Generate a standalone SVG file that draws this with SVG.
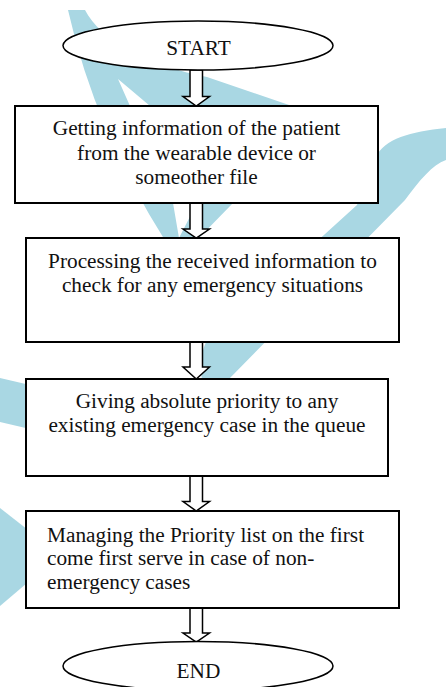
<svg xmlns="http://www.w3.org/2000/svg" width="446" height="687" viewBox="0 0 446 687">
<style>
.wm{fill:#a9d7e3;stroke:none;fill-rule:evenodd}
.box{fill:#fff;stroke:#000;stroke-width:2}
.term{fill:#fff;stroke:#000;stroke-width:1.5}
.arr{fill:#fff;stroke:#000;stroke-width:1.5;stroke-linejoin:miter}
text{font-family:"Liberation Serif","Times New Roman",serif;font-size:21.3px;fill:#111}
.c{text-anchor:middle}
</style>
<rect width="446" height="687" fill="#fff"/>
<g id="watermark">
<path class="wm" d="M68,10 L85,10 C100,40 150,66 207,77 L292,106 L292,150 L233,203 L195,242 L166,242 Q95,130 68,10 Z M118,79 L150,106 L197,203 L179,238 L173,203 L130,106 Z"/>
<path class="wm" d="M446,128 C410,132 385,138 375,158 L357,205 L206,342 C200,355 200,368 202,380 L228,380 L405,200 C420,180 432,165 446,160 Z"/>
<path class="wm" d="M0,378 L60,392 L60,436 L0,422 Z"/>
<path class="wm" d="M0,508 L60,555 L0,606 Z"/>
</g>
<g id="connectors">
<path class="arr" d="M190,70 L202.5,70 L202.5,96.5 L209.5,96.5 L196.25,106 L183,96.5 L190,96.5 Z"/>
<path class="arr" d="M190,203 L202.5,203 L202.5,229 L209.5,229 L196.25,238 L183,229 L190,229 Z"/>
<path class="arr" d="M190,342 L202.5,342 L202.5,367 L209.5,367 L196.25,379 L183,367 L190,367 Z"/>
<path class="arr" d="M190,476 L202.5,476 L202.5,501.5 L209.5,501.5 L196.25,511 L183,501.5 L190,501.5 Z"/>
<path class="arr" d="M190,608 L202.5,608 L202.5,633 L209.5,633 L196.25,642 L183,633 L190,633 Z"/>
</g>
<g id="start">
<ellipse class="term" cx="198" cy="45.5" rx="135" ry="24.5"/>
<text class="c" x="198.5" y="55">START</text>
</g>
<g id="step1">
<rect class="box" x="15" y="106" width="363" height="97"/>
<text class="c" x="196.5" y="135">Getting information of the patient</text>
<text class="c" x="196.5" y="160">from the wearable device or</text>
<text class="c" x="196.5" y="184">someother file</text>
</g>
<g id="step2">
<rect class="box" x="26" y="238" width="373" height="104"/>
<text class="c" x="212.5" y="268">Processing the received information to</text>
<text class="c" x="212.5" y="292">check for any emergency situations</text>
</g>
<g id="step3">
<rect class="box" x="26" y="379" width="362" height="97"/>
<text class="c" x="207" y="408">Giving absolute priority to any</text>
<text class="c" x="207" y="432">existing emergency case in the queue</text>
</g>
<g id="step4">
<rect class="box" x="26" y="511" width="373" height="97"/>
<text x="47" y="542">Managing the Priority list on the first</text>
<text x="47" y="565">come first serve in case of non-</text>
<text x="47" y="589">emergency cases</text>
</g>
<g id="end">
<ellipse class="term" cx="198" cy="666" rx="135" ry="24.5"/>
<text class="c" x="198.5" y="678">END</text>
</g>
</svg>
